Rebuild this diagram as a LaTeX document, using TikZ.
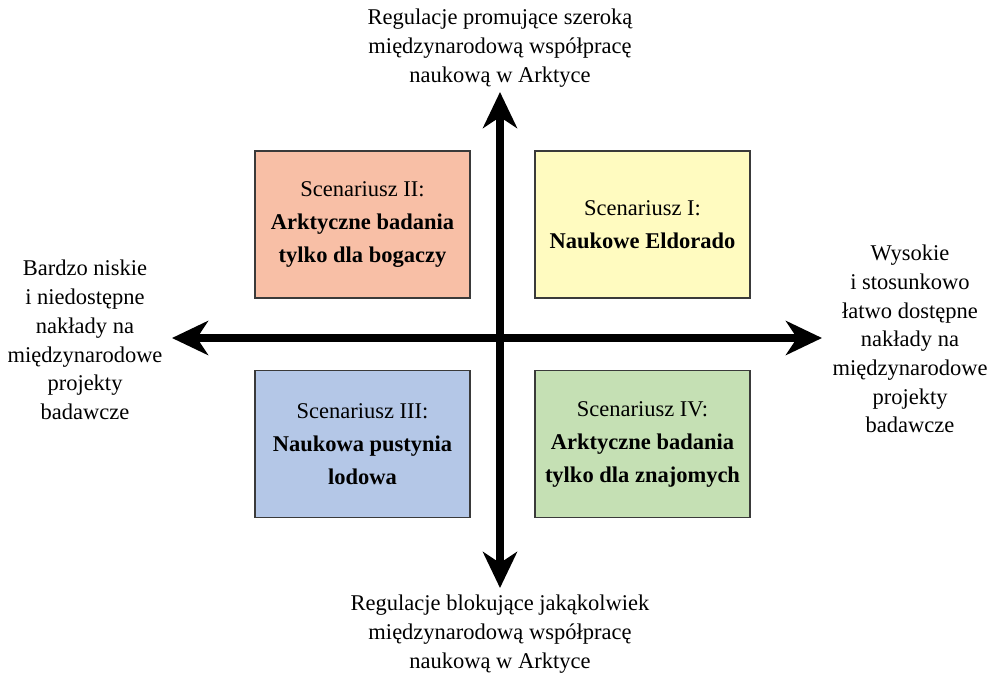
\documentclass[tikz,border=0pt]{standalone}
\usepackage{fontspec}
\setmainfont{Liberation Serif}
\usetikzlibrary{arrows.meta}
\definecolor{boxsalmon}{HTML}{F8BFA6}
\definecolor{boxyellow}{HTML}{FFFBC0}
\definecolor{boxblue}{HTML}{B4C7E7}
\definecolor{boxgreen}{HTML}{C5E0B4}
\definecolor{boxline}{HTML}{3A3A3A}
\begin{document}
\begin{tikzpicture}[x=1pt,y=-1pt,
  scen/.style={draw=boxline,line width=1.2pt,minimum width=215pt,minimum height=147pt,
    align=center,font=\fontsize{22.5}{33}\selectfont,inner sep=0pt},
  label/.style={align=center,font=\fontsize{22.5}{28.7}\selectfont,inner sep=0pt},
  axis/.style={line width=7.5pt,-{Stealth[length=36pt,width=34pt,inset=11pt]}}]
\useasboundingbox (0,0) rectangle (999,675);
% scenario boxes
\node[scen,fill=boxsalmon] (s2) at (362.5,224.5) {Scenariusz II:\\\textbf{Arktyczne badania}\\\textbf{tylko dla bogaczy}};
\node[scen,fill=boxyellow] (s1) at (642.5,224.5) {Scenariusz I:\\\textbf{Naukowe Eldorado}};
\node[scen,fill=boxblue] (s3) at (362.5,444) {Scenariusz III:\\\textbf{Naukowa pustynia}\\\textbf{lodowa}};
\node[scen,fill=boxgreen] (s4) at (642.5,444) {Scenariusz IV:\\\textbf{Arktyczne badania}\\\textbf{tylko dla znajomych}};
% axis ends
\coordinate (c) at (500,338);
\coordinate (up) at (500,92);
\coordinate (dn) at (500,588);
\coordinate (lf) at (172,338);
\coordinate (rt) at (822,338);
\draw[axis] (c) -- (up);
\draw[axis] (c) -- (dn);
\draw[axis] (c) -- (lf);
\draw[axis] (c) -- (rt);
% axis labels
\node[label] (top) at (500,48) {Regulacje promujące szeroką\\międzynarodową współpracę\\naukową w Arktyce};
\node[label] (bot) at (500,634) {Regulacje blokujące jakąkolwiek\\międzynarodową współpracę\\naukową w Arktyce};
\node[label] (left) at (85,340) {Bardzo niskie\\i niedostępne\\nakłady na\\międzynarodowe\\projekty\\badawcze};
\node[label] (right) at (910,339) {Wysokie\\i stosunkowo\\łatwo dostępne\\nakłady na\\międzynarodowe\\projekty\\badawcze};
\end{tikzpicture}
\end{document}
